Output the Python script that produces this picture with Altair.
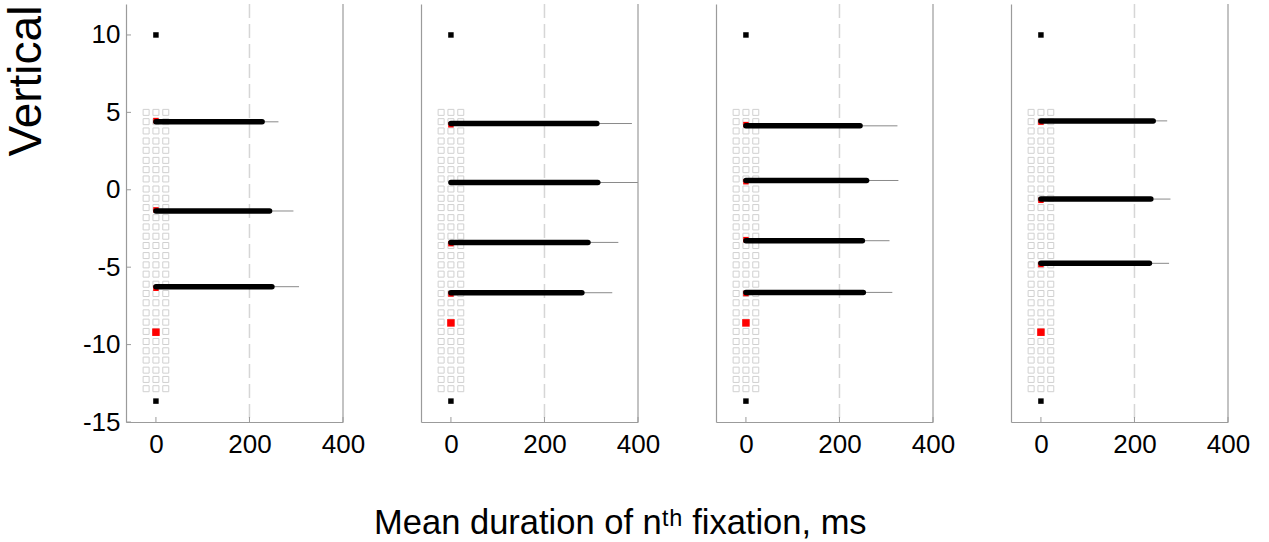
import altair as alt
import pandas as pd

# Axis ticks
y_ticks = [-15, -10, -5, 0, 5, 10]
x_ticks = [0, 200, 400]

# Stimulus grid: three cell columns (ms offsets on x) by thirty text rows (deg)
grid_cols = [-21, 0, 21]
grid_rows = [5.0, 4.4, 3.8, 3.15, 2.55, 1.9, 1.3, 0.7, 0.05, -0.55,
             -1.15, -1.8, -2.4, -3.0, -3.6, -4.25, -4.85, -5.45, -6.1, -6.7,
             -7.3, -7.95, -8.55, -9.15, -9.8, -10.4, -11.0, -11.65, -12.25, -12.85]

# Black reference markers above and below the grid
marker_y = [10.0, -13.65]

# Red target cell, one per panel
target_y = [-9.2, -8.6, -8.6, -9.2]

# Fixations per panel: vertical position, mean duration and upper error
fix_y = [[4.39, -1.37, -6.26],
         [4.28, 0.47, -3.40, -6.65],
         [4.13, 0.60, -3.29, -6.63],
         [4.45, -0.60, -4.75]]
fix_mean = [[227, 243, 248],
            [312, 314, 293, 280],
            [244, 258, 249, 251],
            [240, 235, 232]]
fix_upper = [[262, 294, 306],
             [387, 400, 358, 345],
             [324, 326, 307, 313],
             [270, 277, 274]]
# Fixation landing cells (red), mostly hidden under the duration bars
fix_cell_y = [[4.47, -1.3, -6.36],
              [4.2, -3.48, -6.73],
              [4.21, 0.52, -3.22, -6.7],
              [4.37, -0.68, -4.83]]

X_DOMAIN = [-64, 400]
Y_DOMAIN = [-15, 12]
W, H = 217, 418
FRAME = "#9b9b9b"
FONT = "Liberation Sans"

grid_df = pd.DataFrame([{"x": c, "y": r} for r in grid_rows for c in grid_cols])
marker_df = pd.DataFrame({"x": [0] * len(marker_y), "y": marker_y})
yticks_df = pd.DataFrame({"v": y_ticks})
xticks_df = pd.DataFrame({"v": x_ticks})
ref_df = pd.DataFrame({"v": [200]})
edge_df = pd.DataFrame({"v": [X_DOMAIN[1]]})


def panel(i):
    first = i == 0
    xs = alt.Scale(domain=X_DOMAIN, nice=False, zero=False)
    ys = alt.Scale(domain=Y_DOMAIN, nice=False, zero=False)
    x_axis = alt.Axis(values=x_ticks, title=None, grid=False, ticks=False,
                      labelPadding=9, labelFlush=False, labelOverlap=False,
                      domainColor=FRAME, domainWidth=1.2,
                      labelExpr="'' + datum.value")
    if first:
        y_axis = alt.Axis(values=y_ticks, grid=False, ticks=False, labelPadding=6,
                          domainColor=FRAME, domainWidth=1.2, labelFlush=False,
                          labelExpr="datum.value < 0 ? '-' + abs(datum.value) : '' + datum.value",
                          title="Vertical", titleFontSize=46, titleFont=FONT,
                          titleFontWeight="normal", titleColor="black",
                          titleAngle=270, titleAlign="left", titleBaseline="alphabetic",
                          titleX=-86, titleY=152)
    else:
        y_axis = alt.Axis(labels=False, ticks=False, title=None, grid=False,
                          domainColor=FRAME, domainWidth=1.2)

    def X(f):
        return alt.X(f, type="quantitative", scale=xs, axis=x_axis)

    def Y(f):
        return alt.Y(f, type="quantitative", scale=ys, axis=y_axis)

    fx = pd.DataFrame({"y": fix_y[i], "start": [0] * len(fix_y[i]),
                       "mean": fix_mean[i], "upper": fix_upper[i]})
    cells = pd.DataFrame({"x": [0] * len(fix_cell_y[i]), "y": fix_cell_y[i]})
    target = pd.DataFrame({"x": [0], "y": [target_y[i]]})

    ref = alt.Chart(ref_df).mark_rule(color="#d6d6d6", strokeWidth=1.5,
                                      strokeDash=[14, 6]).encode(x=X("v"))
    grid = alt.Chart(grid_df).mark_point(shape="square", filled=False, size=36,
                                         stroke="#d0d0d0", strokeWidth=1,
                                         opacity=1).encode(x=X("x"), y=Y("y"))
    red_cells = alt.Chart(cells).mark_point(shape="square", filled=True, size=30,
                                            color="#ff0000", opacity=1).encode(x=X("x"), y=Y("y"))
    thin = alt.Chart(fx).mark_rule(color="#8a8a8a", strokeWidth=1).encode(
        x=X("start"), x2="upper", y=Y("y"))
    thick = alt.Chart(fx).mark_rule(color="black", strokeWidth=5.5, strokeCap="round").encode(
        x=X("start"), x2="mean", y=Y("y"))
    markers = alt.Chart(marker_df).mark_point(shape="square", filled=True, size=30,
                                              color="black", opacity=1).encode(x=X("x"), y=Y("y"))
    tgt = alt.Chart(target).mark_point(shape="square", filled=True, size=56,
                                       color="#ff0000", opacity=1).encode(x=X("x"), y=Y("y"))
    edge = alt.Chart(edge_df).mark_rule(color=FRAME, strokeWidth=1.2).encode(x=X("v"))
    xt = alt.Chart(xticks_df).mark_rule(color=FRAME, strokeWidth=1).encode(
        x=X("v"), y=alt.value(H), y2=alt.value(H - 5))

    layers = [ref, grid, red_cells, thin, thick, markers, tgt, edge, xt]
    if first:
        yt = alt.Chart(yticks_df).mark_rule(color=FRAME, strokeWidth=1).encode(
            y=Y("v"), x=alt.value(0), x2=alt.value(5))
        layers.append(yt)
    return alt.layer(*layers).properties(width=W, height=H)


chart = alt.hconcat(*[panel(i) for i in range(4)], spacing=78, bounds="flush").properties(
    title=alt.TitleParams("Mean duration of nᵗʰ fixation, ms", orient="bottom",
                          anchor="middle", fontSize=34.5, font=FONT,
                          fontWeight="normal", color="black", offset=50, dx=-6),
    padding={"left": 2, "top": 3, "right": 5, "bottom": 5},
).configure_view(stroke=None).configure_axis(
    labelFont=FONT, labelFontSize=26, labelColor="black"
)

chart.save("out.html", embed_options={"renderer": "svg", "actions": False})
